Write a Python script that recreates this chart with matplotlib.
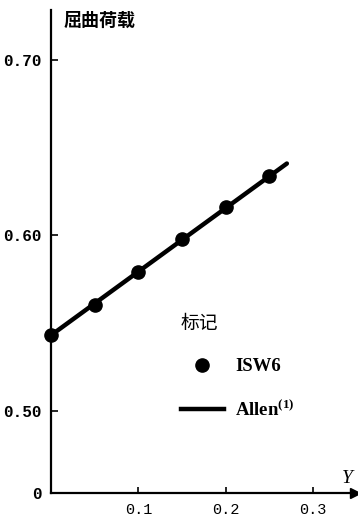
import numpy as np
import matplotlib
matplotlib.use("Agg")
import matplotlib.pyplot as plt
from matplotlib.lines import Line2D

# Buckling load against imperfection parameter Y
y_param = [0.0, 0.05, 0.10, 0.15, 0.20, 0.25]
isw6_load = [0.543, 0.560, 0.579, 0.598, 0.616, 0.634]
allen_y = [0.0, 0.27]
allen_load = [0.543, 0.641]

x_ticks = [0.1, 0.2, 0.3]
x_tick_labels = ["0.1", "0.2", "0.3"]
y_ticks = [0.0, 0.50, 0.60, 0.70]
y_tick_labels = ["0", "0.50", "0.60", "0.70"]

plt.rcParams["mathtext.fontset"] = "custom"
plt.rcParams["mathtext.rm"] = "Liberation Serif:bold"
plt.rcParams["mathtext.it"] = "Liberation Serif:italic:bold"

# broken vertical axis: the range below 0.5 is squeezed into a short stub
SQUEEZE = 0.094


def fwd(v):
    v = np.asarray(v, dtype=float)
    return np.where(v >= 0.5, v, 0.5 - (0.5 - v) * SQUEEZE)


def inv(u):
    u = np.asarray(u, dtype=float)
    return np.where(u >= 0.5, u, 0.5 - (0.5 - u) / SQUEEZE)


fig = plt.figure(figsize=(3.58, 5.20), dpi=100)
ax = fig.add_axes([51 / 358, 27 / 520, 304 / 358, 483 / 520])
ax.set_yscale("function", functions=(fwd, inv))
ax.set_xlim(0, 0.348)
ax.set_ylim(0, 0.7286)

ax.plot(allen_y, allen_load, color="black", lw=3.2, solid_capstyle="round",
        clip_on=False, zorder=3)
ax.plot(y_param, isw6_load, linestyle="none", marker="o", ms=9.5,
        color="black", clip_on=False, zorder=4)

for s in ("top", "right"):
    ax.spines[s].set_visible(False)
for s in ("left", "bottom"):
    ax.spines[s].set_linewidth(1.6)

ax.plot([1.0], [0.0], marker=">", ms=7, color="black",
        transform=ax.transAxes, clip_on=False)

ax.set_xticks(x_ticks)
ax.set_xticklabels(x_tick_labels, family="Liberation Mono", fontsize=11)
ax.set_yticks(y_ticks)
ax.set_yticklabels(y_tick_labels, family="Liberation Mono",
                   fontweight="bold", fontsize=11.5)
ax.tick_params(axis="x", direction="in", length=4, width=1.2, pad=7)
ax.tick_params(axis="y", direction="in", length=5, width=1.2, pad=7)
ax.yaxis.get_major_ticks()[0].tick1line.set_visible(False)

ax.text(0.04, 0.998, "屈曲荷载", transform=ax.transAxes,
        family=["Noto Sans CJK SC", "DejaVu Sans"], fontweight="bold",
        fontsize=13, ha="left", va="top")
ax.text(0.975, 0.012, "Y", transform=ax.transAxes, family="Liberation Serif",
        style="italic", fontsize=14, ha="center", va="bottom")

handles = [
    Line2D([], [], linestyle="none", marker="o", ms=9.5, color="black"),
    Line2D([], [], color="black", lw=3.2),
]
leg = ax.legend(handles, ["ISW6", r"Allen$^{\mathrm{(1)}}$"],
                title="标记", frameon=False, alignment="left",
                loc="upper left", bbox_to_anchor=(0.427, 0.373),
                handlelength=2.3, handletextpad=0.6, labelspacing=1.3,
                borderpad=0, borderaxespad=0,
                prop={"family": "Liberation Serif", "weight": "bold",
                      "size": 13.5},
                title_fontproperties={"family": ["Noto Sans CJK SC",
                                                 "DejaVu Sans"],
                                      "size": 13.5})

fig.savefig("out.png", dpi=100)
